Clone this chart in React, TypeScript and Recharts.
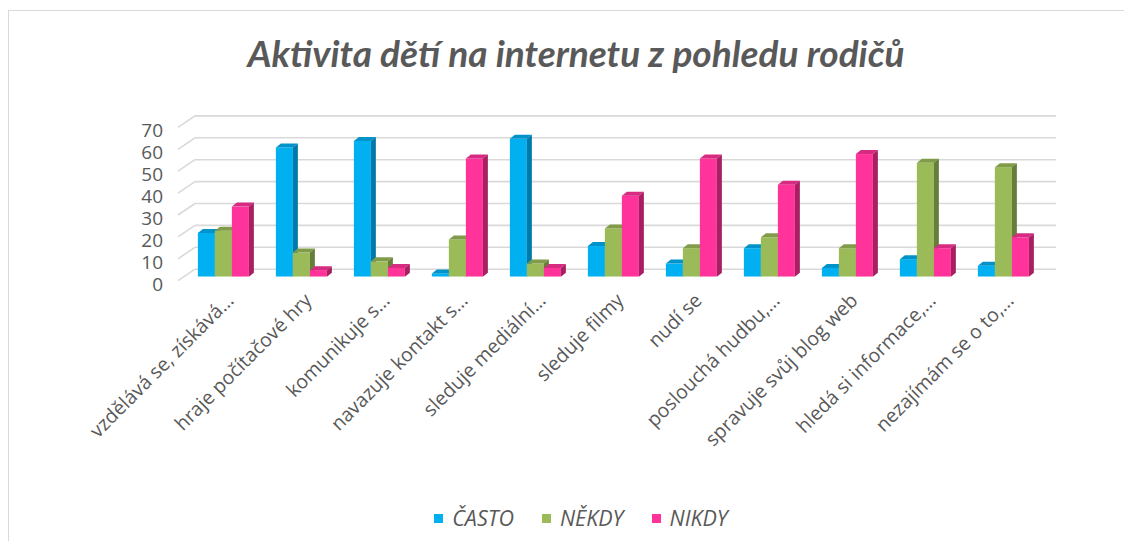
import React from "react";
import { BarChart, Bar, XAxis, YAxis, CartesianGrid, Legend } from "recharts";

const categories = [
  "vzdělává se, získává…",
  "hraje počítačové hry",
  "komunikuje s…",
  "navazuje kontakt s…",
  "sleduje mediální…",
  "sleduje filmy",
  "nudí se",
  "poslouchá hudbu,…",
  "spravuje svůj blog web",
  "hledá si informace,…",
  "nezajímám se o to,…",
];
const casto = [20, 59, 62, 1.5, 63, 14, 6, 13, 4, 8, 5];
const nekdy = [21, 11, 7, 17, 6, 22, 13, 18, 13, 52, 50];
const nikdy = [32, 3, 4, 54, 4, 37, 54, 42, 56, 13, 18];
const yTicks = [0, 10, 20, 30, 40, 50, 60, 70];
const seriesNames = ["ČASTO", "NĚKDY", "NIKDY"];
const title = "Aktivita dětí na internetu z pohledu rodičů";

const data = categories.map((name, i) => ({
  name,
  casto: casto[i],
  nekdy: nekdy[i],
  nikdy: nikdy[i],
}));

const COLORS = [
  { front: "#00B0F0", top: "#0093C9", side: "#007AA8" },
  { front: "#9BBB59", top: "#809C49", side: "#677D3A" },
  { front: "#FF3399", top: "#D62B80", side: "#A81F63" },
];

const DX = 5;
const DY = 4;
const FONT = "'Open Sans', 'DejaVu Sans', sans-serif";
const TEXT = "#595959";

function makeShape(c: { front: string; top: string; side: string }) {
  return (p: any) => {
    const { x, y, width: w, height: h } = p;
    if (h == null || w == null) return <g />;
    return (
      <g>
        <rect x={x} y={y} width={w} height={h} fill={c.front} />
        <polygon
          points={`${x},${y} ${x + DX},${y - DY} ${x + w + DX},${y - DY} ${x + w},${y}`}
          fill={c.top}
        />
        <polygon
          points={`${x + w},${y} ${x + w + DX},${y - DY} ${x + w + DX},${y + h - DY} ${x + w},${y + h}`}
          fill={c.side}
        />
      </g>
    );
  };
}

const gridLine = (p: any) => {
  const { x1, y1, x2 } = p;
  const by = y1 - 7.5;
  return (
    <g key={`g-${y1}`}>
      <line x1={x1 - 7} y1={y1 + 4} x2={x1 + 10} y2={by} stroke="#D9D9D9" strokeWidth={1.6} />
      <line x1={x1 + 10} y1={by} x2={x2 + 13} y2={by} stroke="#D9D9D9" strokeWidth={1.6} />
    </g>
  );
};

const YTick = (p: any) => (
  <text
    x={p.x - 22}
    y={p.y + 7}
    textAnchor="end"
    dominantBaseline="central"
    fontSize={19}
    fill={TEXT}
    fontFamily={FONT}
  >
    {p.payload.value}
  </text>
);

const XTick = (p: any) => {
  const tx = p.x + 11;
  const ty = p.y + 25;
  return (
    <text
      x={tx}
      y={ty}
      transform={`rotate(-45 ${tx} ${ty})`}
      textAnchor="end"
      fontSize={19.5}
      fill={TEXT}
      fontFamily={FONT}
    >
      {p.payload.value}
    </text>
  );
};

const LegendContent = () => (
  <div
    style={{
      display: "flex",
      justifyContent: "center",
      alignItems: "center",
      height: 30,
      fontFamily: FONT,
      fontStyle: "italic",
      fontSize: 21.5,
      color: TEXT,
      paddingRight: 6,
    }}
  >
    {seriesNames.map((n, i) => (
      <div key={n} style={{ display: "flex", alignItems: "center", marginRight: i < 2 ? 28 : 0 }}>
        <div style={{ width: 9, height: 9, background: COLORS[i].front, marginRight: 9, marginTop: 3 }} />
        <span>{n}</span>
      </div>
    ))}
  </div>
);

export default function App() {
  return (
    <div
      style={{
        position: "relative",
        marginTop: 2,
        width: 1116,
        height: 531,
        borderTop: "1px solid #D9D9D9",
        borderLeft: "1px solid #D9D9D9",
        boxSizing: "border-box",
      }}
    >
      <div
        style={{
          position: "absolute",
          left: 67,
          top: 20,
          width: 1000,
          textAlign: "center",
          fontFamily: "Lato, 'Open Sans', sans-serif",
          fontStyle: "italic",
          fontWeight: 700,
          fontSize: 37,
          lineHeight: "44px",
          color: TEXT,
        }}
      >
        {title}
      </div>
      <BarChart
        width={1110}
        height={530}
        data={data}
        margin={{ top: 112.4, left: 116, right: 76, bottom: 9 }}
        barCategoryGap="16.5%"
        barGap={0}
      >
        <CartesianGrid vertical={false} horizontal={gridLine} />
        <XAxis
          dataKey="name"
          interval={0}
          tickLine={false}
          axisLine={false}
          tickSize={0}
          tickMargin={0}
          height={225.3}
          tick={<XTick />}
        />
        <YAxis
          domain={[0, 70]}
          ticks={yTicks}
          interval={0}
          width={60}
          tickLine={false}
          axisLine={false}
          tickSize={0}
          tickMargin={0}
          tick={<YTick />}
          allowDataOverflow
        />
        <Legend verticalAlign="bottom" content={<LegendContent />} />
        <Bar dataKey="casto" name={seriesNames[0]} fill={COLORS[0].front} shape={makeShape(COLORS[0])} isAnimationActive={false} />
        <Bar dataKey="nekdy" name={seriesNames[1]} fill={COLORS[1].front} shape={makeShape(COLORS[1])} isAnimationActive={false} />
        <Bar dataKey="nikdy" name={seriesNames[2]} fill={COLORS[2].front} shape={makeShape(COLORS[2])} isAnimationActive={false} />
      </BarChart>
    </div>
  );
}
